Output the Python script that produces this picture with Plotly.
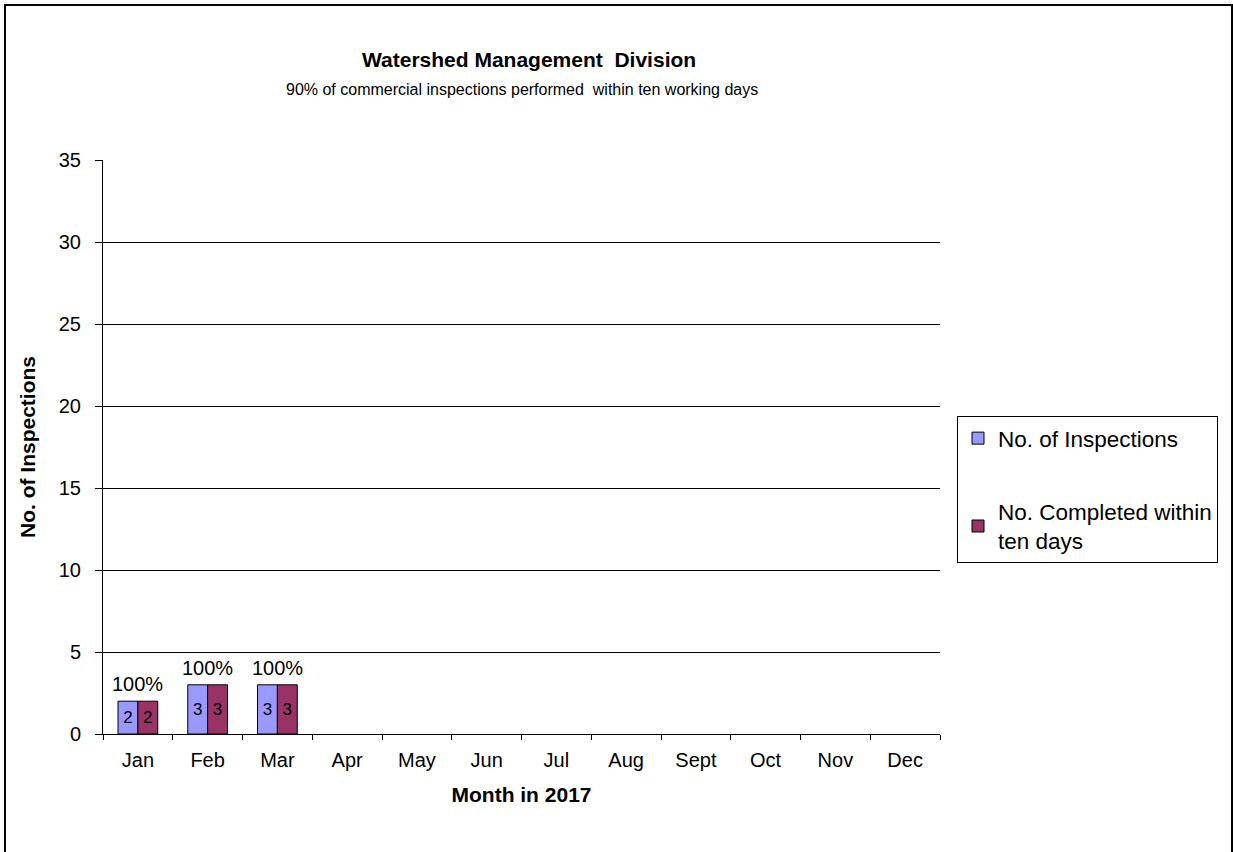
import plotly.graph_objects as go

months = ["Jan", "Feb", "Mar", "Apr", "May", "Jun", "Jul", "Aug", "Sept", "Oct", "Nov", "Dec"]
inspections = [2, 3, 3, None, None, None, None, None, None, None, None, None]
completed = [2, 3, 3, None, None, None, None, None, None, None, None, None]
y_ticks = [0, 5, 10, 15, 20, 25, 30, 35]

FONT = "Liberation Sans, Arial, sans-serif"

fig = go.Figure()
fig.add_trace(go.Bar(
    x=months, y=inspections, name="No. of Inspections",
    marker=dict(color="#9999FF", line=dict(color="black", width=1)),
    text=[str(v) if v is not None else "" for v in inspections],
    textposition="inside", insidetextanchor="middle", constraintext="none",
    textfont=dict(size=17, color="black", family=FONT),
    legendgroup="a",
))
fig.add_trace(go.Bar(
    x=months, y=completed, name="No. Completed within<br>ten days",
    marker=dict(color="#993366", line=dict(color="black", width=1)),
    text=[str(v) if v is not None else "" for v in completed],
    textposition="inside", insidetextanchor="middle", constraintext="none",
    textfont=dict(size=17, color="black", family=FONT),
    legendgroup="b",
))

# percentage labels above each month's group
for m, a, b in zip(months, inspections, completed):
    if a:
        fig.add_annotation(
            x=m, y=max(a, b), xref="x", yref="y", text=f"{round(100 * b / a)}%",
            showarrow=False, yanchor="bottom", yshift=4,
            font=dict(size=20, color="black", family=FONT),
        )

L, R, T, B = 103, 940, 160, 734
W, H = 1233, 852
pw, ph = R - L, B - T

def px(xp):
    return (xp - L) / pw

def py(yp):
    return (B - yp) / ph

fig.add_annotation(x=px(529), y=py(59), xref="paper", yref="paper",
                   text="<b>Watershed Management  Division</b>", showarrow=False,
                   font=dict(size=21, color="black", family=FONT), xanchor="center", yanchor="middle")
fig.add_annotation(x=px(522), y=py(89), xref="paper", yref="paper",
                   text="90% of commercial inspections performed  within ten working days", showarrow=False,
                   font=dict(size=16, color="black", family=FONT), xanchor="center", yanchor="middle")

# outer chart border
fig.add_shape(type="rect", xref="paper", yref="paper",
              x0=px(5), x1=px(1232), y0=py(5), y1=py(880),
              line=dict(color="black", width=2), fillcolor="rgba(0,0,0,0)", layer="below")

fig.update_layout(
    width=W, height=H,
    margin=dict(l=L, r=W - R, t=T, b=H - B, pad=0),
    paper_bgcolor="white", plot_bgcolor="white",
    font=dict(family=FONT, color="black", size=20),
    barmode="group", bargap=0.43, bargroupgap=0,
    uniformtext=dict(minsize=17, mode="show"),
    showlegend=True,
    legend=dict(
        x=px(957), y=py(416), xanchor="left", yanchor="top",
        bordercolor="black", borderwidth=1, bgcolor="white",
        font=dict(size=22.5, family=FONT, color="black"),
        traceorder="grouped", tracegroupgap=41,
        itemwidth=30,
    ),
    xaxis=dict(
        type="category", categoryorder="array", categoryarray=months,
        range=[-0.5, 11.5],
        showline=True, linecolor="black", linewidth=1,
        ticks="outside", tickson="boundaries", ticklen=5, tickcolor="black",
        showgrid=False,
        tickfont=dict(size=20), ticklabelstandoff=8,
        title=dict(text="<b>Month in 2017</b>", font=dict(size=21), standoff=17),
    ),
    yaxis=dict(
        range=[0, 35], tickvals=y_ticks,
        showline=True, linecolor="black", linewidth=1,
        ticks="outside", ticklen=7, tickcolor="black",
        showgrid=True, gridcolor="black", gridwidth=1,
        zeroline=False,
        tickfont=dict(size=20), ticklabelstandoff=10,
        title=dict(text="<b>No. of Inspections</b>", font=dict(size=21), standoff=17),
    ),
)

fig.write_html("out.html", config={"displayModeBar": False},
               post_script="document.documentElement.style.overflow='hidden';document.body.style.margin='0';document.body.style.overflow='hidden';")
